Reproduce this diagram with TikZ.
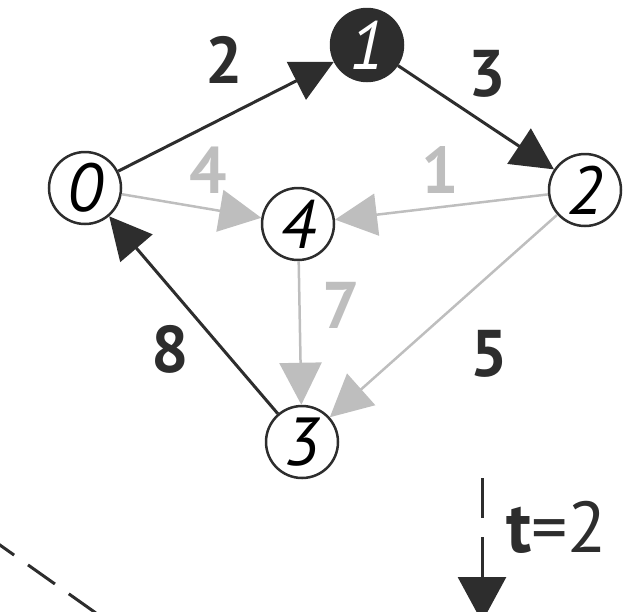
\documentclass[tikz,border=0pt]{standalone}
\usepackage{fontspec}
\setmainfont{PT Sans}
\usetikzlibrary{arrows.meta}
\definecolor{dark}{RGB}{45,45,45}
\definecolor{lgray}{RGB}{190,190,190}
\tikzset{
  vtx/.style={circle,draw=dark,line width=2.5pt,fill=white,minimum size=72pt,inner sep=0pt,
    font=\fontsize{68}{68}\selectfont\itshape},
  blk/.style={draw=dark,line width=3pt,-{Triangle[length=42pt,width=42pt]}},
  gry/.style={draw=lgray,line width=2.5pt,-{Triangle[length=42pt,width=42pt]}},
  wt/.style={font=\fontsize{66}{66}\selectfont\bfseries,text=dark},
  wtg/.style={wt,text=lgray}
}
\begin{document}
\begin{tikzpicture}[x=1pt,y=-1pt]
\useasboundingbox (0,0) rectangle (623,611);
% vertices
\node[vtx] (v0) at (85,188) {0};
\node[vtx,fill=dark,text=white] (v1) at (367,45) {1};
\node[vtx] (v2) at (585,190) {2};
\node[vtx] (v4) at (298,224) {4};
\node[vtx] (v3) at (302,442) {3};
% edges
\draw[gry] (v0) -- (v4);
\draw[gry] (v2) -- (v4);
\draw[gry] (v4) -- (v3);
\draw[gry] (v2) -- (v3);
\draw[blk] (v0) -- (v1);
\draw[blk] (v1) -- (v2);
\draw[blk] (v3) -- (v0);
% weights
\node[wt] (w01) at (224,60) {2};
\node[wt] (w12) at (487,74) {3};
\node[wtg] (w04) at (208,170) {4};
\node[wtg] (w24) at (440,170) {1};
\node[wtg] (w43) at (341,305) {7};
\node[wt] (w23) at (489,354) {5};
\node[wt] (w30) at (170,349) {8};
% time step
\coordinate (ttop) at (482,478);
\coordinate (tbot) at (482,622);
\draw[draw=dark,line width=3pt,dash pattern=on 40pt off 19pt,-{Triangle[length=45pt,width=48pt]}] (ttop) -- (tbot);
\node[font=\fontsize{72}{72}\selectfont,text=dark,anchor=base west,inner sep=0pt] (tlab) at (506,552) {\textbf{t}=2};
\coordinate (da) at (-12.8,536);
\coordinate (db) at (110,623);
\draw[draw=dark,line width=3pt,dash pattern=on 33pt off 17pt] (da) -- (db);
\end{tikzpicture}
\end{document}
